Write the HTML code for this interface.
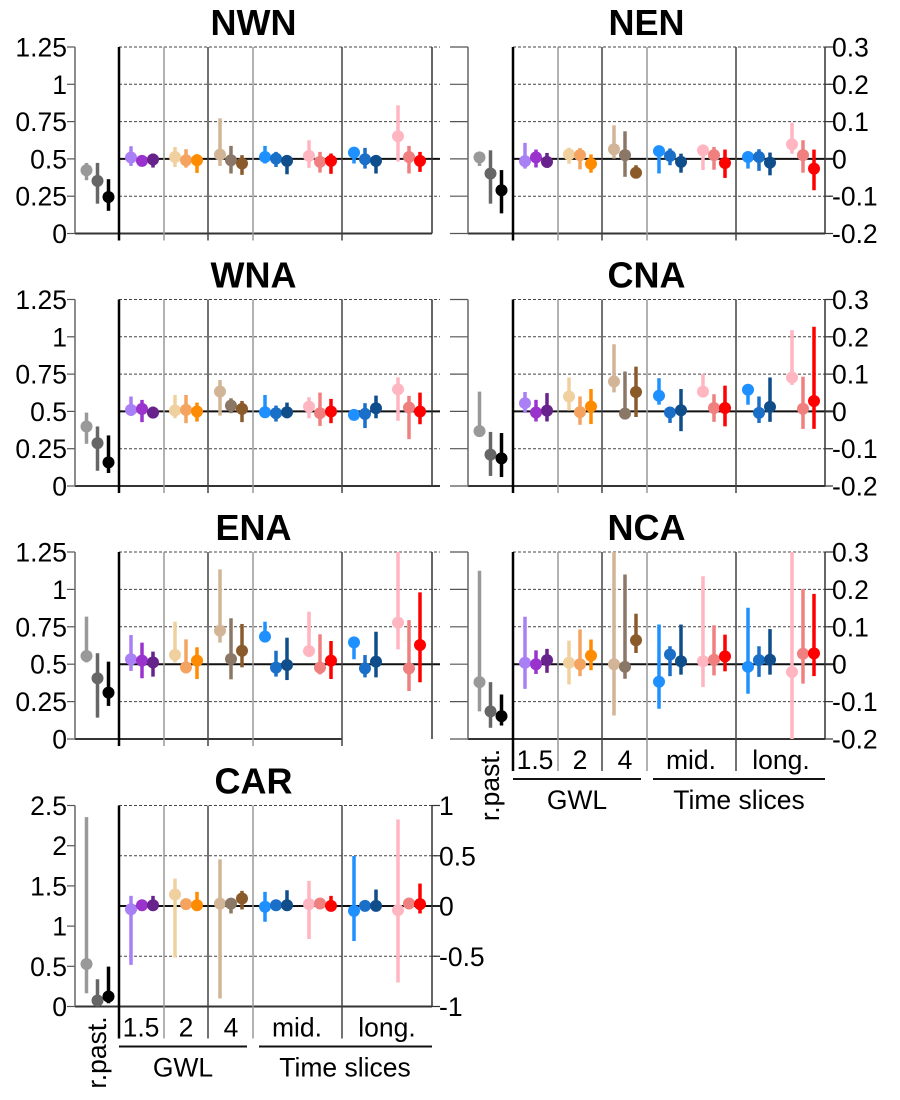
<!DOCTYPE html>
<html><head><meta charset="utf-8">
<style>
html,body{margin:0;padding:0;background:#fff;}
svg{display:block;font-family:"Liberation Sans",sans-serif;}
</style></head>
<body>
<svg id="chart" width="900" height="1100" viewBox="0 0 900 1100" xmlns="http://www.w3.org/2000/svg"></svg>
<script>
const seriesNames = ["past-a","past-b","past-c","gwl15-a","gwl15-b","gwl15-c","gwl2-a","gwl2-b","gwl2-c","gwl4-a","gwl4-b","gwl4-c","mid-blue-a","mid-blue-b","mid-blue-c","mid-pink-a","mid-pink-b","mid-pink-c","long-blue-a","long-blue-b","long-blue-c","long-pink-a","long-pink-b","long-pink-c"];
const seriesColors = ["#999999","#666666","#000000","#a97ff6","#9a32cd","#68228b","#efd09e","#f4a460","#ff8c00","#d2b496","#8b7766","#8b5a2b","#1e90ff","#1a6fc8","#104e8b","#ffb6c1","#f08080","#ff0000","#1e90ff","#1a6fc8","#104e8b","#ffb6c1","#f08080","#ff0000"];

const nwnMid = [0.424,0.353,0.245, 0.509,0.487,0.496, 0.513,0.491,0.491, 0.529,0.491,0.469, 0.513,0.502,0.487, 0.52,0.48,0.487, 0.542,0.498,0.487, 0.652,0.513,0.487];
const nwnLo  = [0.357,0.20,0.152, 0.453,0.458,0.442, 0.446,0.442,0.406, 0.453,0.402,0.393, 0.469,0.446,0.397, 0.44,0.408,0.40, 0.469,0.435,0.402, 0.482,0.402,0.413];
const nwnHi  = [0.473,0.473,0.364, 0.585,0.513,0.536, 0.58,0.565,0.531, 0.772,0.587,0.525, 0.587,0.547,0.513, 0.625,0.547,0.536, 0.567,0.574,0.518, 0.859,0.587,0.547];

const wnaMid = [0.399,0.287,0.158, 0.51,0.517,0.492, 0.506,0.51,0.499, 0.633,0.539,0.517, 0.494,0.488,0.494, 0.532,0.488,0.499, 0.477,0.483,0.521, 0.648,0.526,0.499];
const wnaLo  = [0.283,0.102,0.087, 0.47,0.428,0.459, 0.454,0.421,0.432, 0.472,0.488,0.428, 0.465,0.432,0.454, 0.454,0.403,0.421, 0.454,0.388,0.454, 0.437,0.314,0.414];
const wnaHi  = [0.492,0.399,0.339, 0.60,0.577,0.532, 0.61,0.61,0.559, 0.71,0.588,0.57, 0.61,0.539,0.559, 0.595,0.626,0.584, 0.499,0.555,0.606, 0.728,0.604,0.626];

const enaMid = [0.555,0.406,0.31, 0.533,0.524,0.512, 0.562,0.479,0.524, 0.724,0.535,0.59, 0.684,0.477,0.495, 0.588,0.477,0.524, 0.646,0.472,0.517, 0.778,0.472,0.628];
const enaLo  = [0.512,0.143,0.221, 0.455,0.406,0.417, 0.512,0.439,0.401, 0.644,0.399,0.479, 0.684,0.417,0.394, 0.55,0.432,0.401, 0.533,0.412,0.412, 0.599,0.321,0.379];
const enaHi  = [0.818,0.573,0.517, 0.695,0.644,0.584, 0.784,0.666,0.613, 1.134,0.807,0.769, 0.784,0.59,0.677, 0.851,0.70,0.655, 0.673,0.561,0.717, 1.25,0.795,0.98];

const nenMid = [0.004,-0.039,-0.084, -0.006,0.004,-0.008, 0.012,0.01,-0.013, 0.026,0.01,-0.037, 0.021,0.008,-0.008, 0.023,0.01,-0.011, 0.005,0.005,-0.01, 0.039,0.01,-0.026];
const nenLo  = [-0.019,-0.12,-0.146, -0.026,-0.023,-0.024, -0.013,-0.028,-0.037, 0.001,-0.048,-0.048, -0.039,-0.017,-0.037, -0.03,-0.029,-0.051, -0.026,-0.032,-0.044, 0.014,-0.037,-0.084];
const nenHi  = [0.01,0.023,-0.03, 0.043,0.025,0.016, 0.03,0.029,0.012, 0.09,0.074,-0.017, 0.032,0.028,0.014, 0.037,0.032,0.025, 0.016,0.026,0.017, 0.097,0.05,0.025];

const cnaMid = [-0.053,-0.116,-0.126, 0.022,-0.003,0.002, 0.04,-0.002,0.013, 0.08,-0.006,0.052, 0.042,-0.003,0.003, 0.053,0.009,0.009, 0.058,-0.004,0.012, 0.091,0.007,0.028];
const cnaLo  = [-0.067,-0.173,-0.176, -0.004,-0.027,-0.027, 0.002,-0.036,-0.034, 0.051,-0.015,-0.015, 0.018,-0.031,-0.053, 0.04,-0.028,-0.04, 0.018,-0.031,-0.028, 0.071,-0.047,-0.047];
const cnaHi  = [0.053,-0.055,-0.058, 0.052,0.031,0.049, 0.091,0.04,0.06, 0.18,0.107,0.12, 0.089,0.003,0.06, 0.10,0.046,0.069, 0.067,0.04,0.091, 0.218,0.093,0.227];

const ncaMid = [-0.048,-0.126,-0.139, 0.004,0,0.011, 0.004,0,0.023, 0,-0.007,0.064, -0.047,0.026,0.008, 0.008,0.012,0.021, -0.007,0.011,0.012, -0.021,0.028,0.029];
const ncaLo  = [-0.126,-0.17,-0.164, -0.066,-0.026,-0.023, -0.054,-0.032,-0.016, -0.137,-0.039,0.03, -0.119,-0.032,-0.028, -0.061,-0.03,-0.019, -0.079,-0.034,-0.028, -0.2,-0.052,-0.032];
const ncaHi  = [0.25,-0.048,-0.081, 0.127,0.037,0.041, 0.063,0.093,0.066, 0.3,0.24,0.135, 0.106,0.048,0.106, 0.235,0.104,0.079, 0.151,0.048,0.094, 0.3,0.201,0.188];

const carMid = [0.529,0.074,0.124, 1.21,1.26,1.26, 1.393,1.273,1.26, 1.28,1.28,1.343, 1.24,1.26,1.26, 1.273,1.281,1.252, 1.19,1.252,1.252, 1.198,1.281,1.273];
const carLo  = [0.165,0,0.04, 0.517,1.198,1.19, 0.61,1.22,1.207, 0.1,1.157,1.207, 1.054,1.207,1.207, 0.839,1.227,1.198, 0.814,1.207,1.207, 0.298,1.231,1.157];
const carHi  = [2.355,0.339,0.496, 1.376,1.30,1.376, 1.59,1.32,1.426, 1.83,1.335,1.438, 1.426,1.30,1.446, 1.562,1.33,1.376, 1.872,1.30,1.455, 2.326,1.33,1.529];

const absTickVals = [0,0.25,0.5,0.75,1,1.25];
const absTickLabels = ["0","0.25","0.5","0.75","1","1.25"];
const anomTickVals = [-0.2,-0.1,0,0.1,0.2,0.3];
const anomTickLabels = ["-0.2","-0.1","0","0.1","0.2","0.3"];
const carLeftVals = [0,0.5,1,1.5,2,2.5];
const carLeftLabels = ["0","0.5","1","1.5","2","2.5"];
const carRightVals = [0,0.625,1.25,1.875,2.5];
const carRightLabels = ["-1","-0.5","0","0.5","1"];
const groupLabels = ["1.5","2","4","mid.","long."];

const NS = "http://www.w3.org/2000/svg";
const svg = document.getElementById("chart");
const FS = 26.5;
function mk(tag, attrs, parent){
  const e = document.createElementNS(NS, tag);
  for (const k in attrs) e.setAttribute(k, attrs[k]);
  (parent||svg).appendChild(e);
  return e;
}
function seriesX(i, x0, xm){
  if (i < 3) return x0 + 11.5 + i*11;
  const g = Math.floor((i-3)/3), k = (i-3)%3;
  const starts = [12,56,101,146,190,235,279];
  return xm + starts[g] + k*11;
}

function panel(c){
  const g = mk("g", {});
  
  
  const Y = v => c.yb - (v - c.lo)/(c.hi - c.lo)*(c.yb - c.yt);
  const divs = [c.xm+45, c.xm+89, c.xm+134, c.xm+223];
  c.grid.forEach(v => {
    const l = mk("line", {x1:c.xm, x2:c.xr+8, y1:Y(v), y2:Y(v), stroke:"#444", "stroke-width":1, "stroke-dasharray":"3,2"}, g);
    
    
  });
  c.leftTicks.forEach(v => {
    mk("line", {x1:c.x0 - (c.leftLabels ? 8 : 18), x2:c.x0, y1:Y(v), y2:Y(v), stroke:"#555", "stroke-width":1.2}, g);
  });
  const ref = mk("line", {x1:c.xm, x2:c.xr+8, y1:Y(c.ref), y2:Y(c.ref), stroke:"#111", "stroke-width":2}, g);
  
  
  mk("line", {x1:c.x0, x2:c.bottomEnd, y1:c.yb, y2:c.yb, stroke:"#333", "stroke-width":2}, g);
  mk("line", {x1:c.x0, x2:c.x0, y1:c.yt, y2:c.yb, stroke:"#666", "stroke-width":1.5}, g);
  mk("line", {x1:c.xm, x2:c.xm, y1:c.yt, y2:c.yb + (c.labels?32:7), stroke:"#000", "stroke-width":2.5}, g);
  divs.forEach((x,i) => {
    mk("line", {x1:x, x2:x, y1:c.yt, y2:c.yb + (c.labels?32:7), stroke:(i%2==0?"#999":"#444"), "stroke-width":1.5}, g);
  });
  mk("line", {x1:c.xr, x2:c.xr, y1:c.yt, y2:c.yb, stroke:"#333", "stroke-width":1.5}, g);
  if (c.rightTicks) c.rightTicks.forEach(v => {
    mk("line", {x1:c.xr, x2:c.xr+8, y1:Y(v), y2:Y(v), stroke:"#333", "stroke-width":1.2}, g);
  });
  if (c.leftLabels) c.leftTicks.forEach((v,i) => {
    const t = mk("text", {x:c.x0-8, y:Y(v)+9.5, "text-anchor":"end", "font-size":FS, fill:"#000"}, g);
    t.textContent = c.leftLabels[i];
    
    
  });
  if (c.rightLabels) c.rightTicks.forEach((v,i) => {
    const t = mk("text", {x:c.xr+7, y:Y(v)+9.5, "text-anchor":"start", "font-size":FS, fill:"#000"}, g);
    t.textContent = c.rightLabels[i];
    
    
  });
  const tt = mk("text", {x:(c.x0+c.xr)/2, y:c.yt-12, "text-anchor":"middle", "font-size":36, "font-weight":"bold", fill:"#000"}, g);
  tt.textContent = c.title;
  
  
  for (let i = 0; i < c.mid.length; i++){
    const x = seriesX(i, c.x0, c.xm);
    const bar = mk("line", {x1:x, x2:x, y1:Y(c.los[i]), y2:Y(c.his[i]), stroke:seriesColors[i], "stroke-width":3.5}, g);
    
    
    const pt = mk("circle", {cx:x, cy:Y(c.mid[i]), r:6, fill:seriesColors[i]}, g);
    
    
  }
  if (c.labels){
    const cx = [c.xm+22, c.xm+67, c.xm+112, c.xm+178, c.xm+268];
    groupLabels.forEach((s,i) => {
      const t = mk("text", {x:cx[i], y:c.yb+30, "text-anchor":"middle", "font-size":FS, fill:"#000"}, g);
      t.textContent = s;
      
      
    });
    mk("line", {x1:c.xm, x2:c.xm+128, y1:c.yb+40, y2:c.yb+40, stroke:"#111", "stroke-width":2}, g);
    mk("line", {x1:c.xm+140, x2:c.xr, y1:c.yb+40, y2:c.yb+40, stroke:"#111", "stroke-width":2}, g);
    const a = mk("text", {x:c.xm+64, y:c.yb+70, "text-anchor":"middle", "font-size":FS, fill:"#000"}, g);
    a.textContent = "GWL";
    
    
    const b = mk("text", {x:c.xm+226, y:c.yb+70, "text-anchor":"middle", "font-size":FS, fill:"#000"}, g);
    b.textContent = "Time slices";
    
    
    const px = c.x0+31, py = c.yb+46;
    const r = mk("text", {x:px, y:py, "text-anchor":"middle", "font-size":FS, fill:"#000", transform:"rotate(-90 "+px+" "+py+")"}, g);
    r.textContent = "r.past.";
    
    
  }
}

const L = {x0:75, xm:119, xr:432};
const R = {x0:468, xm:513, xr:825};
const rows = [[47,233.5],[299.5,486],[552,739]];
const absGrid = [0.25,0.75,1,1.25];
const anomGrid = [-0.1,0.1,0.2,0.3];

panel({name:"nwn", title:"NWN", ...L, yt:rows[0][0], yb:rows[0][1], lo:0, hi:1.25, mid:nwnMid, los:nwnLo, his:nwnHi, grid:absGrid, ref:0.5, leftTicks:absTickVals, leftLabels:absTickLabels, bottomEnd:432});
panel({name:"wna", title:"WNA", ...L, yt:rows[1][0], yb:rows[1][1], lo:0, hi:1.25, mid:wnaMid, los:wnaLo, his:wnaHi, grid:absGrid, ref:0.5, leftTicks:absTickVals, leftLabels:absTickLabels, bottomEnd:440});
panel({name:"ena", title:"ENA", ...L, yt:rows[2][0], yb:rows[2][1], lo:0, hi:1.25, mid:enaMid, los:enaLo, his:enaHi, grid:absGrid, ref:0.5, leftTicks:absTickVals, leftLabels:absTickLabels, bottomEnd:342});
panel({name:"car", title:"CAR", ...L, yt:805.5, yb:1006.5, lo:0, hi:2.5, mid:carMid, los:carLo, his:carHi, grid:[0.625,1.875,2.5], ref:1.25, leftTicks:carLeftVals, leftLabels:carLeftLabels, rightTicks:carRightVals, rightLabels:carRightLabels, bottomEnd:432, labels:true});
panel({name:"nen", title:"NEN", ...R, yt:rows[0][0], yb:rows[0][1], lo:-0.2, hi:0.3, mid:nenMid, los:nenLo, his:nenHi, grid:anomGrid, ref:0, leftTicks:anomTickVals, rightTicks:anomTickVals, rightLabels:anomTickLabels, bottomEnd:825});
panel({name:"cna", title:"CNA", ...R, yt:rows[1][0], yb:rows[1][1], lo:-0.2, hi:0.3, mid:cnaMid, los:cnaLo, his:cnaHi, grid:anomGrid, ref:0, leftTicks:anomTickVals, rightTicks:anomTickVals, rightLabels:anomTickLabels, bottomEnd:825});
panel({name:"nca", title:"NCA", ...R, yt:rows[2][0], yb:rows[2][1], lo:-0.2, hi:0.3, mid:ncaMid, los:ncaLo, his:ncaHi, grid:anomGrid, ref:0, leftTicks:anomTickVals, rightTicks:anomTickVals, rightLabels:anomTickLabels, bottomEnd:825, labels:true});
</script>
</body></html>
